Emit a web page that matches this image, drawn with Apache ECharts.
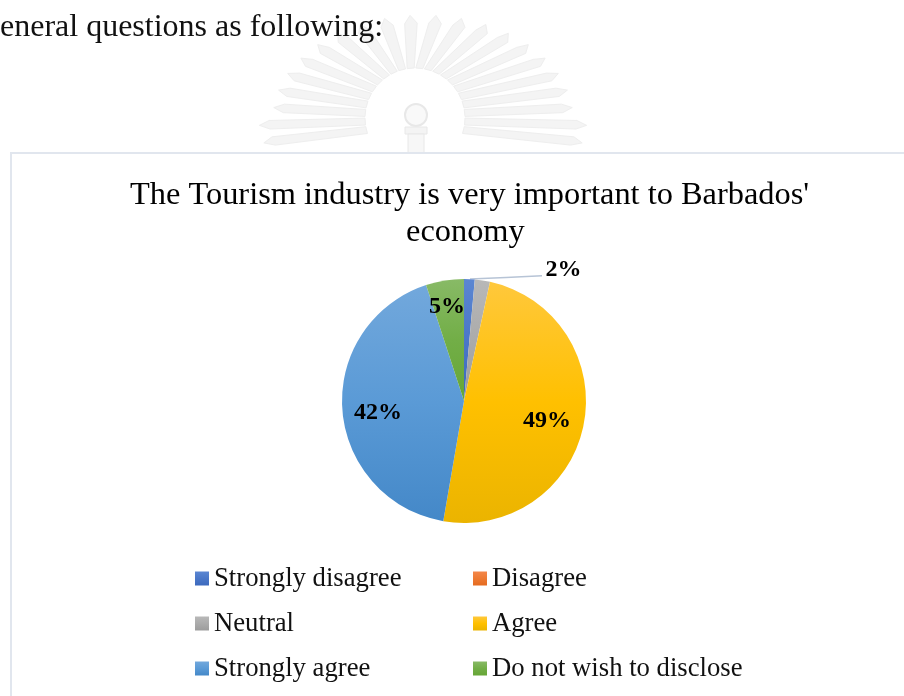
<!DOCTYPE html>
<html>
<head>
<meta charset="utf-8">
<style>
  html, body { margin: 0; padding: 0; background: #fff; }
  #chart { width: 904px; height: 696px; }
</style>
<script src="https://cdn.jsdelivr.net/npm/echarts@6/dist/echarts.min.js"></script>
</head>
<body>
<div id="chart"></div>
<script>
// Survey responses, in percent
const categories = ['Strongly disagree', 'Disagree', 'Neutral', 'Agree', 'Strongly agree', 'Do not wish to disclose'];
const shares = [1.4, 0, 2, 49, 42, 5];
// Only these answers carry a value label
const labelled = ['Neutral', 'Agree', 'Strongly agree', 'Do not wish to disclose'];
const gradients = [
  ['#5b86d2', '#4a77c8', '#3c69bd'], ['#f4874a', '#ed7a33', '#e56b1f'], ['#b8b8b8', '#ababab', '#9c9c9c'],
  ['#ffc83c', '#ffc000', '#ebb400'], ['#72a8dc', '#5a9ad6', '#4488c8'], ['#88ba66', '#72ae47', '#66a636']
];
const titleLines = ["The Tourism industry is very important to Barbados'", 'economy'];
const bodyText = 'eneral questions as following:';

const serif = '"Liberation Serif", "Times New Roman", serif';
const fill = (stops) => new echarts.graphic.LinearGradient(0, 0, 0, 1, [
  { offset: 0, color: stops[0] }, { offset: 0.5, color: stops[1] }, { offset: 1, color: stops[2] }
]);

// Label anchor points around the pie
const labelSpots = {
  'Neutral': { x: 563.5, y: 270 },
  'Agree': { x: 547, y: 421 },
  'Strongly agree': { x: 378, y: 413 },
  'Do not wish to disclose': { x: 447, y: 307 }
};
// Leader from the top of the pie out to the small-slice label
const leaderPoints = [[470, 279], [506, 277.4], [542, 275.7]];

// Faint seal printed on the page behind the chart
function seal() {
  const out = [];
  const count = 22;
  const outer = (a, rx, ry) => [423 + rx * Math.cos(a), 118 - ry * Math.sin(a)];
  const inner = (a) => [415 + 50 * Math.cos(a), 118 - 50 * Math.sin(a)];
  for (let i = 0; i < count; i++) {
    const a = (-14 + (208 * i) / (count - 1)) * Math.PI / 180;
    const rx = Math.sin(a) < 0 ? 164 : 150;
    const ry = 103;
    out.push({
      type: 'polygon',
      silent: true,
      shape: { points: [
        inner(a - 0.07),
        outer(a - 0.045, rx - 10, ry - 8),
        outer(a, rx, ry),
        outer(a + 0.045, rx - 10, ry - 8),
        inner(a + 0.07)
      ] },
      style: { fill: '#f4f4f4', stroke: '#eeeeee', lineWidth: 1 },
      z: 0
    });
  }
  out.push({ type: 'circle', silent: true, shape: { cx: 416, cy: 115, r: 11 },
    style: { fill: '#f9f9f9', stroke: '#e8e8e8', lineWidth: 2 }, z: 0 });
  out.push({ type: 'rect', silent: true, shape: { x: 405, y: 127, width: 22, height: 7 },
    style: { fill: '#f4f4f4', stroke: '#e8e8e8', lineWidth: 1 }, z: 0 });
  out.push({ type: 'rect', silent: true, shape: { x: 408, y: 134, width: 16, height: 20 },
    style: { fill: '#f7f7f7', stroke: '#e8e8e8', lineWidth: 1 }, z: 0 });
  return out;
}

const titleStyle = { fontFamily: serif, fontSize: 32.4, fontWeight: 'normal', color: '#000' };
const chart = echarts.init(document.getElementById('chart'), null, { renderer: 'canvas' });
chart.setOption({
  backgroundColor: '#ffffff',
  animation: false,
  title: [
    { text: titleLines[0], left: 125, top: 174, textStyle: titleStyle, z: 5 },
    { text: titleLines[1], left: 401, top: 211, textStyle: titleStyle, z: 5 }
  ],
  legend: {
    left: 190,
    top: 551,
    width: 580,
    orient: 'horizontal',
    itemWidth: 14,
    itemHeight: 14,
    itemGap: 0,
    icon: 'rect',
    selectedMode: false,
    data: categories,
    textStyle: { fontFamily: serif, fontSize: 26.7, color: '#111', width: 259, lineHeight: 45 },
    z: 5
  },
  graphic: [
    ...seal(),
    { type: 'text', silent: true, x: 0, y: 12,
      style: { text: bodyText, font: '32px ' + serif, fill: '#111' }, z: 1 },
    { type: 'rect', silent: true, shape: { x: 11, y: 153, width: 920, height: 600 },
      style: { fill: '#fff', stroke: '#e1e6ee', lineWidth: 2 }, z: 2 }
  ],
  series: [{
    type: 'pie',
    center: [464, 401],
    radius: [0, 122],
    startAngle: 90,
    clockwise: true,
    z: 4,
    itemStyle: { borderColor: '#fff', borderWidth: 0 },
    label: {
      show: true,
      fontFamily: serif,
      fontSize: 24,
      fontWeight: 'bold',
      color: '#000',
      formatter: (p) => p.value + '%'
    },
    labelLine: { show: false },
    labelLayout: (p) => {
      const name = categories[p.dataIndex];
      const spot = labelSpots[name];
      if (!spot) return {};
      const layout = { x: spot.x, y: spot.y, align: 'center', verticalAlign: 'middle' };
      if (name === 'Neutral') layout.labelLinePoints = leaderPoints;
      return layout;
    },
    data: categories.map((name, i) => {
      const shown = labelled.includes(name);
      const leader = name === 'Neutral';
      return {
        name,
        value: shares[i],
        itemStyle: { color: fill(gradients[i]) },
        label: { show: shown, position: leader ? 'outside' : 'inside' },
        labelLine: leader
          ? { show: true, length: 6, length2: 6, smooth: false, lineStyle: { color: '#b7c4d6', width: 1.5 } }
          : { show: false }
      };
    })
  }]
});
</script>
</body>
</html>
